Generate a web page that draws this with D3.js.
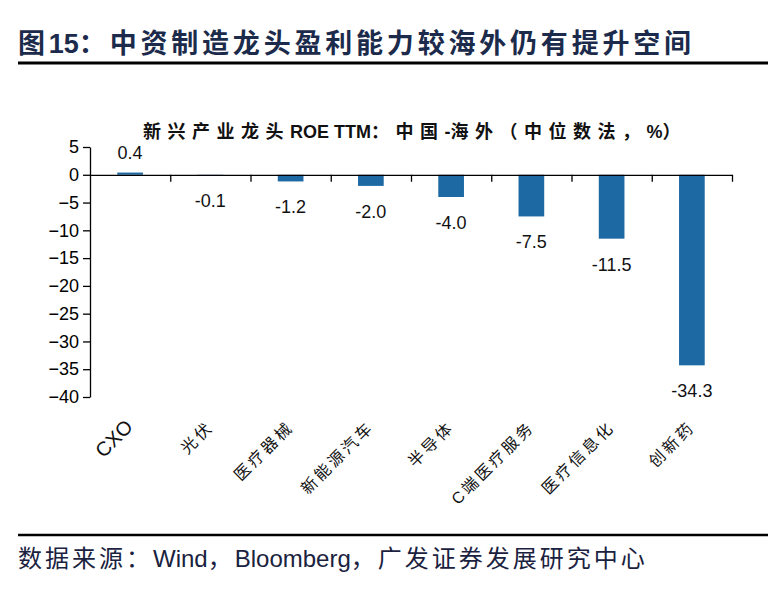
<!DOCTYPE html>
<html>
<head>
<meta charset="utf-8">
<script src="https://cdn.jsdelivr.net/npm/d3@7/dist/d3.min.js"></script>
<style>
  body { margin: 0; background: #fff; }
  .axis path, .axis line { stroke: #000; stroke-width: 1.3px; }
  .axis text { font-family: "Liberation Sans", Arial, sans-serif; font-size: 18px; fill: #000; }
</style>
</head>
<body>
<div id="chart-area"></div>
<script>
// categories and values (China minus overseas, median ROE TTM, %)
const categories = ['CXO', '光伏', '医疗器械', '新能源汽车', '半导体', 'C端医疗服务', '医疗信息化', '创新药'];
const values = [0.4, -0.1, -1.2, -2.0, -4.0, -7.5, -11.5, -34.3];
const yTicks = [5, 0, -5, -10, -15, -20, -25, -30, -35, -40];

const svg = d3.select('#chart-area')
    .append('svg')
    .attr('width', 776)
    .attr('height', 595);

const mixed = '"Liberation Sans", "Noto Sans CJK SC", sans-serif';
const latin = '"Liberation Sans", Arial, sans-serif';

// split text into cjk / latin runs, spacing only the cjk ones
function mixedText(sel, str, cjkSpacing) {
    const runs = str.match(/[\u3000-\u9fff\uff00-\uffef]+|[^\u3000-\u9fff\uff00-\uffef]+/g);
    runs.forEach(r => {
        const isCjk = /[\u3000-\u9fff\uff00-\uffef]/.test(r);
        sel.append('tspan')
            .style('letter-spacing', isCjk ? cjkSpacing + 'px' : '0px')
            .text(r);
    });
    return sel;
}

// title
const title = svg.append('text')
    .attr('x', 18)
    .attr('y', 53)
    .style('font-family', mixed)
    .style('font-weight', 'bold')
    .style('font-size', '27px')
    .style('fill', '#1c2b4b');
mixedText(title, '图15：中资制造龙头盈利能力较海外仍有提升空间', 3.8);

svg.append('line')
    .attr('x1', 18).attr('x2', 768)
    .attr('y1', 63).attr('y2', 63)
    .attr('stroke', '#000').attr('stroke-width', 3);

// chart subtitle
const sub = svg.append('text')
    .attr('x', 415)
    .attr('y', 138)
    .attr('text-anchor', 'middle')
    .style('font-family', mixed)
    .style('font-weight', 'bold')
    .style('font-size', '18px')
    .style('fill', '#111');
mixedText(sub, '新兴产业龙头ROE TTM：中国-海外（中位数法，%）', 6.5);

// scales
const x = d3.scaleBand()
    .domain(categories)
    .range([90, 732])
    .paddingInner(0.68)
    .paddingOuter(0.34);

const xEdges = d3.scaleLinear()
    .domain([0, categories.length])
    .range([90, 732]);

const y = d3.scaleLinear()
    .domain([-40, 5])
    .range([397, 147]);

// bars
svg.selectAll('rect.bar')
    .data(values)
    .enter()
    .append('rect')
    .attr('class', 'bar')
    .attr('x', (d, i) => x(categories[i]))
    .attr('width', x.bandwidth())
    .attr('y', d => y(Math.max(0, d)))
    .attr('height', d => Math.abs(y(d) - y(0)))
    .attr('fill', '#1d69a4');

// y axis
svg.append('g')
    .attr('class', 'axis')
    .attr('transform', 'translate(90,0)')
    .call(d3.axisLeft(y).tickValues(yTicks).tickSize(7).tickSizeOuter(0).tickPadding(4));

// x axis at zero, ticks between categories
svg.append('g')
    .attr('class', 'axis')
    .attr('transform', 'translate(0,' + y(0) + ')')
    .call(d3.axisBottom(xEdges)
        .tickValues(d3.range(1, categories.length + 1))
        .tickFormat('')
        .tickSize(7)
        .tickSizeOuter(0));

// value labels
svg.selectAll('text.value')
    .data(values)
    .enter()
    .append('text')
    .attr('class', 'value')
    .attr('x', (d, i) => x(categories[i]) + x.bandwidth() / 2)
    .attr('y', d => d >= 0 ? y(d) - 14 : y(d) + 32)
    .attr('text-anchor', 'middle')
    .style('font-family', latin)
    .style('font-size', '18px')
    .style('fill', '#111')
    .text(d => d.toFixed(1));

// category labels, rotated
svg.selectAll('text.cat')
    .data(categories)
    .enter()
    .append('text')
    .attr('class', 'cat')
    .attr('transform', d => 'translate(' + (x(d) + x.bandwidth() / 2 + 4) + ',428) rotate(-45)')
    .attr('text-anchor', 'end')
    .style('font-family', mixed)
    .style('font-size', d => /^[A-Z]+$/.test(d) ? '20px' : '16px')
    .style('letter-spacing', d => /^[A-Z]+$/.test(d) ? '0px' : '3px')
    .style('fill', '#111')
    .text(d => d);

// footer
svg.append('line')
    .attr('x1', 18).attr('x2', 768)
    .attr('y1', 535).attr('y2', 535)
    .attr('stroke', '#000').attr('stroke-width', 2.5);

const foot = svg.append('text')
    .attr('x', 18)
    .attr('y', 567)
    .style('font-family', mixed)
    .style('font-size', '24px')
    .style('fill', '#1a2240');
mixedText(foot, '数据来源：Wind，Bloomberg，广发证券发展研究中心', 3);
</script>
</body>
</html>
